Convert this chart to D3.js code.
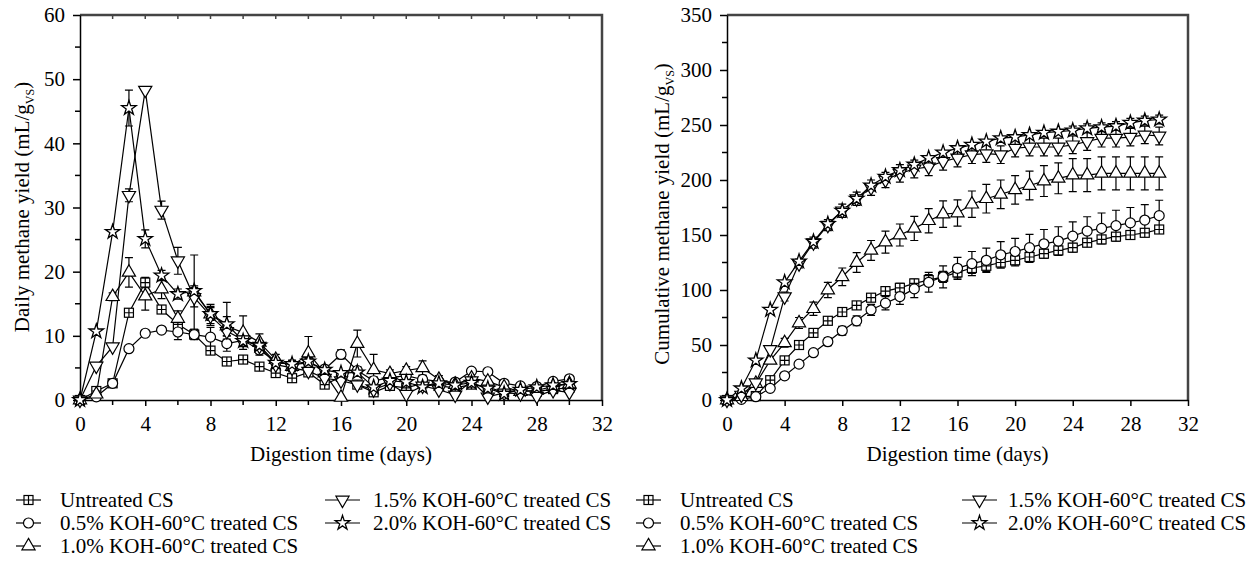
<!DOCTYPE html>
<html>
<head>
<meta charset="utf-8">
<script src="https://d3js.org/d3.v7.min.js"></script>
<style>
  body { margin: 0; background: #fff; }
  svg text { font-family: "Liberation Serif", "DejaVu Serif", serif; fill: #000; }
</style>
</head>
<body>
<svg id="fig" width="1257" height="561"></svg>
<script>
//// data
var days = [0,1,2,3,4,5,6,7,8,9,10,11,12,13,14,15,16,17,18,19,20,21,22,23,24,25,26,27,28,29,30];

var seriesNames = ["Untreated CS", "0.5% KOH-60°C treated CS", "1.0% KOH-60°C treated CS",
                   "1.5% KOH-60°C treated CS", "2.0% KOH-60°C treated CS"];
var seriesMarks = ["square", "circle", "tri", "inv", "star"];

// daily methane yield (mL/gVS)
var dailyUntreated = [0,1.4,2.6,13.6,18.3,14.1,11.8,10.2,7.7,6.0,6.3,5.2,4.2,3.4,4.3,2.4,3.6,2.4,1.2,2.2,1.9,2.6,2.2,1.9,2.4,2.0,1.2,1.5,1.3,1.7,1.9];
var daily05 = [0,0.5,2.6,8.0,10.4,10.9,10.6,10.2,9.8,8.8,9.3,7.8,6.0,5.5,5.8,4.8,7.1,4.6,3.0,3.5,3.8,3.2,2.9,2.8,4.5,4.4,2.6,2.2,2.1,2.9,3.3];
var daily10 = [0,0.9,16.1,19.9,16.2,17.3,12.7,16.8,13.4,11.5,10.5,9.0,6.3,5.2,7.3,4.2,0.4,8.8,4.7,4.1,4.6,5.0,3.2,2.4,3.4,2.9,2.0,1.3,1.5,2.1,2.5];
var daily15 = [0,5.3,8.3,31.9,48.3,29.6,21.7,16.0,13.1,10.7,9.4,8.4,5.5,5.0,4.5,3.4,3.0,2.4,1.6,2.6,0.9,2.2,1.6,0.8,3.0,0.5,1.1,1.0,0.6,1.5,1.2];
var daily20 = [0,10.7,26.2,45.5,25.1,19.4,16.5,17.0,13.4,11.8,9.2,8.5,5.8,5.6,6.0,4.7,4.2,4.3,2.0,3.0,2.8,2.0,2.6,2.3,2.7,1.8,1.0,1.6,2.0,2.3,2.5];

var dailyErrUntreated = [0,0.3,0.3,0.6,0.8,0.6,0.5,0.5,0.5,0.4,0.4,0.5,0.5,0.4,0.6,0.4,0.5,0.4,0.4,0.4,0.4,0.4,0.4,0.4,0.4,0.3,0.3,0.3,0.3,0.3,0.3];
var dailyErr05 = [0,0.2,0.3,0.4,0.5,0.5,1.2,0.8,1.5,1.2,1.0,0.8,0.6,0.6,0.8,0.6,0.7,0.6,0.6,0.6,0.6,0.6,0.5,0.5,0.5,0.5,0.4,0.4,0.4,0.4,0.4];
var dailyErr10 = [0,0.3,0.6,2.3,2.2,1.5,1.2,5.8,1.5,1.5,2.6,1.3,0.8,0.8,2.6,0.6,0.5,2.1,2.4,0.6,0.6,1.1,0.6,0.5,0.5,0.5,0.5,0.4,0.4,0.4,0.4];
var dailyErr15 = [0,0.3,0.5,1.0,0.5,1.4,2.1,1.5,1.5,1.2,1.0,0.8,0.6,0.6,0.6,0.5,0.5,0.5,0.5,0.5,0.5,0.5,0.5,0.5,0.5,0.4,0.4,0.4,0.4,0.4,0.4];
var dailyErr20 = [0,0.4,0.4,2.8,1.4,0.8,0.8,0.8,1.0,3.4,0.8,0.6,0.6,0.6,0.6,0.5,0.5,0.5,0.5,0.5,0.5,0.5,0.5,0.5,0.5,0.4,0.4,0.4,0.4,0.4,0.4];

// cumulative methane yield (mL/gVS)
var cumUntreated = [0,3,3.6,18,36,50,61,72,80,86,93,99,102,106,109,112,116,120,122,125,127,130,133,136,138.5,143,146,148.5,150,152,155];
var cum05 = [0,0.6,3,10.6,22,32.6,43,53,63,72,82,88,94,101,107,112,119.7,124,127,132,135,138.5,142,144.5,149,153.6,156,158.5,161,163.6,167.6];
var cum10 = [0,3,15,36,52,70,83,100,112,125,136,143.5,150,156,163,169,170,178,183,187,191,195,199,201.5,204.5,204.5,206,206,206,206,206];
var cum15 = [0,4.5,15.7,46,94,124,143,159,172,183,193,200,206,210,212,217,220,223,224,223,229,230,230,230,232,235,238,238,239,241,240];
var cum20 = [0,10.6,36,82,107,126,144,160,172,183,195,203,209,214,220,225,229,232,235,238,239,241,243,244,245,247,248,249,252,254,255];

var cumErrUntreated = [0,0.5,0.8,1.5,2,2,2,2.5,3,3,3,3.5,4,4,5,5,5,5,5,5,5,5,4,4,4,3.5,3,3,3,3,3];
var cumErr05 = [0,0.5,0.8,1.5,2,2.5,3,3.5,4,4.5,5,6,7,8,9,10,10,11,11,12,12,12,13,13,13,13,14,14,14,14,14];
var cumErr10 = [0,1,2,3,4,5,6,7,8,9,9,10,10,11,11,12,12,12,13,13,13,13,14,14,15,15,15,15,15,15,15];
var cumErr15 = [0,1,2,3,4,4,5,5,6,6,7,7,8,8,8,8,8,8,8,8,8,8,8,8,8,8,8,8,8,8,8];
var cumErr20 = [0,1,2,2,2,3,3,3,3,3,3,3,3,3,3,3,3,3,3,3,3,3,3,3,4,4,4,4,4,4,4];

var xTicks = [0,4,8,12,16,20,24,28,32];
var xMinor = [2,6,10,14,18,22,26,30];
var xTopTicks = [2,4,6,8,10,12,14,16,18,20,22,24,26,28,30];
var dailyTicks = [0,10,20,30,40,50,60];
var dailyMinor = [5,15,25,35,45,55];
var cumTicks = [0,50,100,150,200,250,300,350];
var cumMinor = [25,75,125,175,225,275,325];

//// figure
var svg = d3.select("#fig");
var FS = "21px";

function drawMark(g, type, x, y) {
  var m = g.append("g").attr("transform", "translate(" + x + "," + y + ")")
    .attr("fill", "#fff").attr("stroke", "#000").attr("stroke-width", 1.2);
  if (type == "circle") {
    m.append("circle").attr("r", 5);
  } else if (type == "square") {
    m.append("rect").attr("x", -4.5).attr("y", -4.5).attr("width", 9).attr("height", 9);
    m.append("path").attr("d", "M-4.5,0H4.5M0,-4.5V4.5");
  } else if (type == "tri") {
    m.append("path").attr("d", d3.symbol(d3.symbolTriangle, 75)());
  } else if (type == "inv") {
    m.append("path").attr("d", d3.symbol(d3.symbolTriangle, 75)()).attr("transform", "rotate(180)");
  } else if (type == "star") {
    m.append("path").attr("d", d3.symbol(d3.symbolStar, 65)()).attr("stroke-width", 1.3);
  }
}

function panel(opt) {
  var x = d3.scaleLinear().domain([0, 32]).range([opt.left, opt.right]);
  var y = d3.scaleLinear().domain([0, opt.ymax]).range([400, 15]);
  var g = svg.append("g");

  // frame (top + right)
  g.append("path")
    .attr("d", "M" + opt.left + ",15H" + opt.right + "V400")
    .attr("fill", "none").attr("stroke", "#444").attr("stroke-width", 2.5);

  if (opt.topTicks) {
    g.append("g").selectAll("line").data(opt.topTicks).enter().append("line")
      .attr("x1", function(d) { return x(d); }).attr("x2", function(d) { return x(d); })
      .attr("y1", 15).attr("y2", 19).attr("stroke", "#444").attr("stroke-width", 1.5);
  }

  // x axis
  var xa = g.append("g").attr("transform", "translate(0,400)")
    .call(d3.axisBottom(x).tickValues(xTicks).tickSize(6).tickSizeOuter(0).tickPadding(10));
  if (opt.minorX) {
    xa.append("g").selectAll("line").data(opt.minorX).enter().append("line")
      .attr("x1", function(d) { return x(d); }).attr("x2", function(d) { return x(d); })
      .attr("y1", 0).attr("y2", 5).attr("stroke", "#000");
  }

  // y axis
  var ya = g.append("g").attr("transform", "translate(" + opt.left + ",0)")
    .call(d3.axisLeft(y).tickValues(opt.yTicks).tickSize(7).tickSizeOuter(0).tickPadding(8));
  ya.append("g").selectAll("line").data(opt.minorY).enter().append("line")
    .attr("x1", -5).attr("x2", 0)
    .attr("y1", function(d) { return y(d); }).attr("y2", function(d) { return y(d); })
    .attr("stroke", "#000");

  [xa, ya].forEach(function(a) {
    a.selectAll("text").style("font-size", FS).style("font-family", "Liberation Serif");
    a.selectAll("path, line").attr("stroke", "#000").attr("stroke-width", 1.5);
  });

  // axis titles
  g.append("text").attr("x", (opt.left + opt.right) / 2).attr("y", 461)
    .attr("text-anchor", "middle").style("font-size", FS).text("Digestion time (days)");

  var yt = g.append("text")
    .attr("transform", "translate(" + opt.titleX + "," + opt.titleY + ") rotate(-90)")
    .attr("text-anchor", "middle").style("font-size", FS);
  yt.append("tspan").text(opt.title + " (mL/g");
  yt.append("tspan").attr("dy", 5).style("font-size", "12px").text("VS");
  yt.append("tspan").attr("dy", -5).text(")");

  // series
  var line = d3.line().x(function(d) { return x(d.day); }).y(function(d) { return y(d.v); });
  opt.series.forEach(function(s, i) {
    var pts = days.map(function(d, j) { return {day: d, v: s[j], e: opt.errs[i][j]}; });
    var sg = g.append("g");
    sg.append("path").datum(pts).attr("d", line)
      .attr("fill", "none").attr("stroke", "#000").attr("stroke-width", 1.2);
    var eb = sg.append("g").attr("stroke", "#000").attr("stroke-width", 1.2);
    pts.forEach(function(p) {
      if (p.e < 0.6 * opt.ymax / 60) return;
      var x0 = x(p.day), y1 = y(p.v + p.e), y2 = y(Math.max(0, p.v - p.e));
      eb.append("path").attr("d", "M" + x0 + "," + y1 + "V" + y2 +
        "M" + (x0 - 4) + "," + y1 + "H" + (x0 + 4) +
        "M" + (x0 - 4) + "," + y2 + "H" + (x0 + 4));
    });
  });
  opt.series.forEach(function(s, i) {
    var mg = g.append("g");
    days.forEach(function(d, j) { drawMark(mg, seriesMarks[i], x(d), y(s[j])); });
  });

  // legend: [line start, line end, text x, baseline]
  opt.legend.forEach(function(L, i) {
    var lg = g.append("g");
    lg.append("line").attr("x1", L[0]).attr("x2", L[1]).attr("y1", L[3] - 7).attr("y2", L[3] - 7)
      .attr("stroke", "#000").attr("stroke-width", 1.2);
    drawMark(lg, seriesMarks[i], (L[0] + L[1]) / 2, L[3] - 7);
    lg.append("text").attr("x", L[2]).attr("y", L[3]).style("font-size", FS).text(seriesNames[i]);
  });
}

panel({
  left: 80, right: 602, ymax: 60, yTicks: dailyTicks,
  minorX: xMinor, topTicks: xTopTicks,
  minorY: dailyMinor,
  titleX: 29, titleY: 207, title: "Daily methane yield",
  series: [dailyUntreated, daily05, daily10, daily15, daily20],
  errs: [dailyErrUntreated, dailyErr05, dailyErr10, dailyErr15, dailyErr20],
  legend: [[16,41,60,507],[16,41,60,530],[16,41,60,553],[325,360,373,507],[325,360,373,530]]
});

panel({
  left: 727, right: 1188, ymax: 350, yTicks: cumTicks,
  minorX: null, topTicks: null,
  minorY: cumMinor,
  titleX: 669, titleY: 214, title: "Cumulative methane yield",
  series: [cumUntreated, cum05, cum10, cum15, cum20],
  errs: [cumErrUntreated, cumErr05, cumErr10, cumErr15, cumErr20],
  legend: [[636,661,680,507],[636,661,680,530],[636,661,680,553],[962,997,1008,507],[962,997,1008,530]]
});
</script>
</body>
</html>
